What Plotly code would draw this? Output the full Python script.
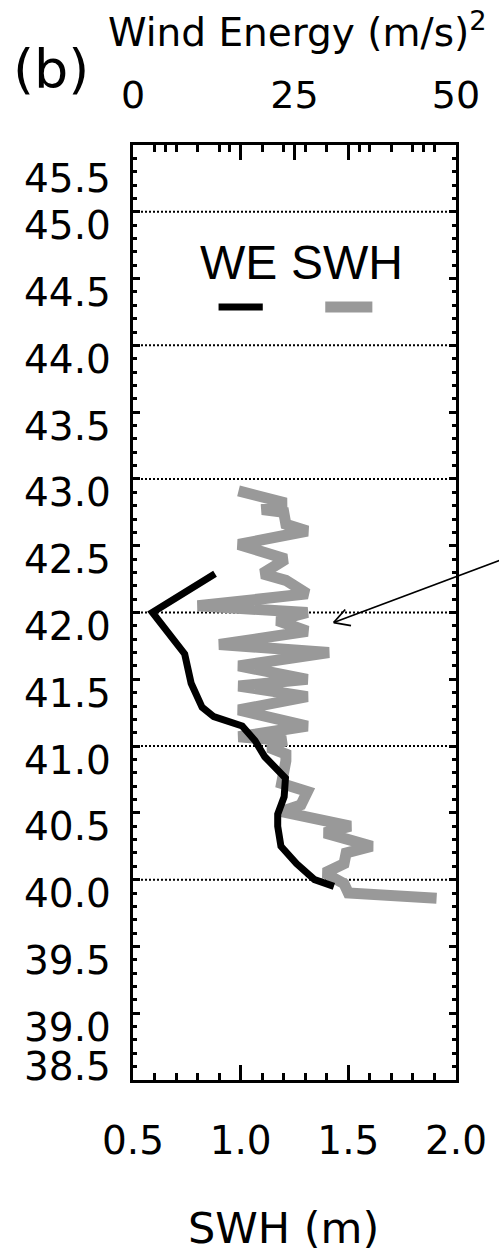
import plotly.graph_objects as go

# ---------------- data ----------------
swh_lat = [42.91, 42.82, 42.77, 42.75, 42.66, 42.61, 42.51, 42.40, 42.29, 42.24,
           42.14, 42.05, 42.00, 41.94, 41.86, 41.76, 41.70, 41.60, 41.50, 41.45,
           41.37, 41.27, 41.15, 41.07, 41.04, 40.99, 40.94, 40.89, 40.72, 40.66,
           40.56, 40.51, 40.40, 40.35, 40.25, 40.20, 40.12, 40.05, 39.97, 39.90, 39.86]
swh_val = [0.99, 1.21, 1.10, 1.20, 1.21, 1.31, 0.99, 1.21, 1.10, 1.21,
           1.31, 0.80, 1.31, 1.17, 1.31, 0.90, 1.41, 0.99, 1.31, 0.99,
           1.31, 0.99, 1.31, 0.99, 1.21, 1.13, 1.21, 1.21, 1.19, 1.31,
           1.28, 1.19, 1.51, 1.39, 1.61, 1.49, 1.48, 1.39, 1.48, 1.50, 1.91]

we_lat = [42.29, 42.00, 41.69, 41.47, 41.29, 41.22, 41.15, 41.04, 40.92, 40.76,
          40.62, 40.49, 40.40, 40.25, 40.12, 40.00, 39.95]
we_val = [12.7, 3.0, 8.0, 9.0, 10.7, 12.5, 16.9, 18.9, 20.4, 23.6,
          23.4, 22.4, 22.4, 22.9, 25.3, 28.1, 31.1]

y_ticks = [38.5, 39.0, 39.5, 40.0, 40.5, 41.0, 41.5, 42.0, 42.5, 43.0, 43.5, 44.0, 44.5, 45.0, 45.5]
grid_lats = [40, 41, 42, 43, 44, 45]
swh_ticks = [0.5, 1.0, 1.5, 2.0]
we_ticks = [0, 25, 50]

# ---------------- layout geometry ----------------
W, H = 499, 1253
L, R, T, B = 133, 469, 145, 1080
SWH_RANGE = [0.5, 2.0]
LAT_RANGE = [38.5, 45.5]


def px(xp):
    return (xp - L) / (R - L)


def py(yp):
    return (B - yp) / (B - T)


NUMFONT = "DejaVu Sans"
TXTFONT = "Liberation Sans, Arial, sans-serif"
GRAY = "#999999"

fig = go.Figure()
fig.add_trace(go.Scatter(x=swh_val, y=swh_lat, mode="lines",
                         line=dict(color=GRAY, width=11), xaxis="x", yaxis="y",
                         showlegend=False, hoverinfo="skip"))
fig.add_trace(go.Scatter(x=we_val, y=we_lat, mode="lines",
                         line=dict(color="black", width=7), xaxis="x2", yaxis="y",
                         showlegend=False, hoverinfo="skip"))

fig.update_layout(
    width=W, height=H,
    margin=dict(l=L, r=W - R, t=T, b=H - B, pad=0),
    paper_bgcolor="white", plot_bgcolor="white",
    showlegend=False,
    xaxis=dict(range=SWH_RANGE, tickmode="array", tickvals=swh_ticks,
               ticktext=[f"{v:.1f}" for v in swh_ticks],
               ticks="inside", ticklen=15, tickwidth=2.5, tickcolor="black",
               minor=dict(dtick=0.1, tick0=0.5, ticks="inside", ticklen=7,
                          tickwidth=2.5, tickcolor="black"),
               showline=True, linewidth=3, linecolor="black", mirror="ticks",
               showgrid=False, zeroline=False,
               tickfont=dict(family=NUMFONT, size=39, color="black"),
               ticklabelstandoff=24),
    xaxis2=dict(range=[0, 50], overlaying="x", side="top", anchor="y",
                tickmode="array", tickvals=we_ticks, ticktext=[str(v) for v in we_ticks],
                ticks="inside", ticklen=15, tickwidth=2.5, tickcolor="black",
                minor=dict(dtick=5, tick0=0, ticks="inside", ticklen=7,
                           tickwidth=2.5, tickcolor="black"),
                showline=False, showgrid=False, zeroline=False,
                tickfont=dict(family=NUMFONT, size=38, color="black"),
                ticklabelstandoff=28),
    yaxis=dict(range=LAT_RANGE, tickmode="array", tickvals=y_ticks,
               showticklabels=False,
               ticks="inside", ticklen=7, tickwidth=2.5, tickcolor="black",
               minor=dict(dtick=0.1, tick0=38.5, ticks="inside", ticklen=4,
                          tickwidth=2.5, tickcolor="black"),
               showline=True, linewidth=3, linecolor="black", mirror="ticks",
               showgrid=False, zeroline=False),
)

# dotted horizontal grid lines
for lat in grid_lats:
    fig.add_shape(type="line", xref="paper", yref="y", x0=0, x1=1, y0=lat, y1=lat,
                  line=dict(color="black", width=2, dash="2px,2px"), layer="below")

annotations = []
# y tick labels (shifted like the original)
for v in y_ticks:
    if v == y_ticks[-1]:
        shift = -33
    elif v == y_ticks[0]:
        shift = 14
    else:
        shift = -14
    annotations.append(dict(x=0, xref="paper", y=v, yref="y", text=f"{v:.1f}",
                            showarrow=False, xanchor="right", yanchor="middle",
                            xshift=-20, yshift=shift,
                            font=dict(family=NUMFONT, size=39, color="black")))

# panel label and titles
annotations.append(dict(x=px(48), y=py(70), xref="paper", yref="paper", text="(b)",
                        showarrow=False, xanchor="center", yanchor="middle",
                        font=dict(family=NUMFONT, size=54, color="black")))
annotations.append(dict(x=px(304), y=py(30), xref="paper", yref="paper",
                        text="Wind Energy (m/s)<sup>2</sup>",
                        showarrow=False, xanchor="center", yanchor="middle",
                        font=dict(family=NUMFONT, size=39, color="black")))
annotations.append(dict(x=px(290), y=py(1228), xref="paper", yref="paper",
                        text="SWH (m)", showarrow=False, xanchor="center", yanchor="middle",
                        font=dict(family=NUMFONT, size=43, color="black")))

# legend texts
annotations.append(dict(x=px(243), y=py(262), xref="paper", yref="paper", text="WE",
                        showarrow=False, xanchor="center", yanchor="middle",
                        font=dict(family=TXTFONT, size=48, color="black")))
annotations.append(dict(x=px(356), y=py(262), xref="paper", yref="paper", text="SWH",
                        showarrow=False, xanchor="center", yanchor="middle",
                        font=dict(family=TXTFONT, size=48, color="black")))

fig.update_layout(annotations=annotations)

# arrow pointing to the SWH oscillations (drawn as line shapes)
tip_swh, tip_lat = 1.432, 41.925
tip_px = L + (tip_swh - SWH_RANGE[0]) / (SWH_RANGE[1] - SWH_RANGE[0]) * (R - L)
tip_py = T + (LAT_RANGE[1] - tip_lat) / (LAT_RANGE[1] - LAT_RANGE[0]) * (B - T)
for dx, dy in [(175, -63), (18, 3), (12, -13)]:
    fig.add_shape(type="line", xref="paper", yref="paper",
                  x0=px(tip_px), y0=py(tip_py), x1=px(tip_px + dx), y1=py(tip_py + dy),
                  line=dict(color="black", width=1.8))

# legend line samples
fig.add_shape(type="line", xref="paper", yref="paper", x0=px(222), x1=px(268),
              y0=py(307), y1=py(307), line=dict(color="black", width=7))
fig.add_shape(type="line", xref="paper", yref="paper", x0=px(333), x1=px(382),
              y0=py(307), y1=py(307), line=dict(color=GRAY, width=11))

fig.write_html("out.html")
